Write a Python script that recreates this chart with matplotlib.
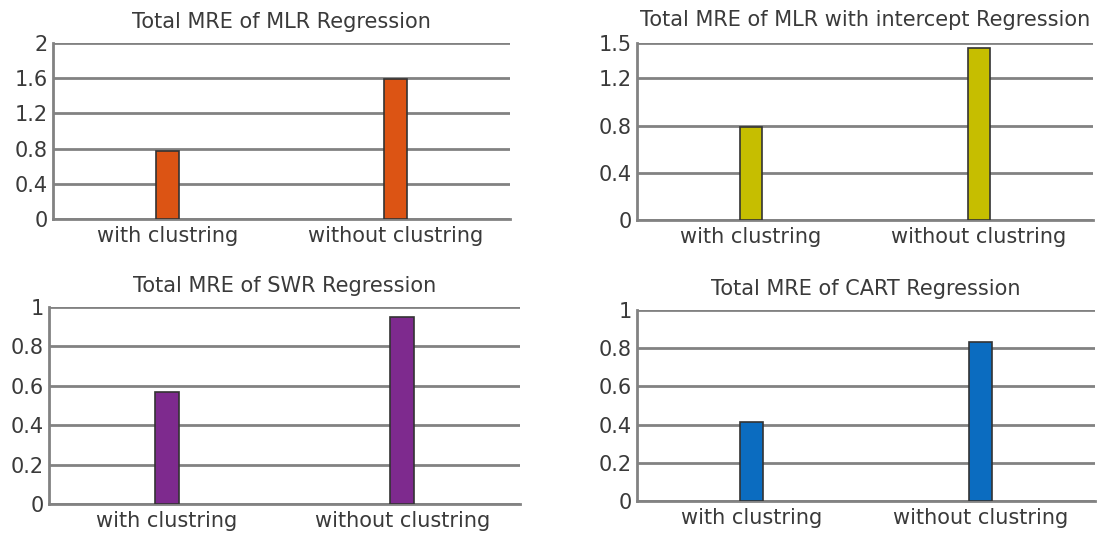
import matplotlib
matplotlib.use("Agg")
import matplotlib.pyplot as plt

# data
categories = ["with clustring", "without clustring"]

mlr_values = [0.77, 1.59]
mlr_int_values = [0.79, 1.46]
swr_values = [0.57, 0.95]
cart_values = [0.415, 0.83]

titles = ["Total MRE of MLR Regression",
          "Total MRE of MLR with intercept Regression",
          "Total MRE of SWR Regression",
          "Total MRE of CART Regression"]

mlr_ticks = [0, 0.4, 0.8, 1.2, 1.6, 2]
mlr_int_ticks = [0, 0.4, 0.8, 1.2, 1.5]
swr_ticks = [0, 0.2, 0.4, 0.6, 0.8, 1]
cart_ticks = [0, 0.2, 0.4, 0.6, 0.8, 1]

colors = ["#DC5414", "#C6BE00", "#7E2A8E", "#0B6CC0"]

W, H = 1105, 535
fig = plt.figure(figsize=(W / 100, H / 100), dpi=100)
plt.rcParams["font.family"] = "DejaVu Sans"

# axes boxes in pixels: left, right, top, bottom
boxes = [(53, 510, 43, 219),
         (637, 1093, 43, 220),
         (49, 520, 307, 504),
         (637, 1095, 310, 501)]

panels = [(mlr_values, mlr_ticks),
          (mlr_int_values, mlr_int_ticks),
          (swr_values, swr_ticks),
          (cart_values, cart_ticks)]

title_pads = [11, 12, 11, 11]


def tick_text(v):
    if v == int(v):
        return "%d" % v
    return ("%.1f" % v)


for i, ((vals, ticks), box) in enumerate(zip(panels, boxes)):
    l, r, t, b = box
    ax = fig.add_axes([l / W, 1 - b / H, (r - l) / W, (b - t) / H])
    x = list(range(len(categories)))
    ax.bar(x, vals, width=0.1, color=colors[i], edgecolor="#333333",
           linewidth=1.2, zorder=3)
    ax.set_xlim(-0.5, 1.5)
    ax.set_ylim(0, ticks[-1])
    ax.set_yticks(ticks)
    ax.set_yticklabels([tick_text(v) for v in ticks])
    ax.set_xticks(x)
    ax.set_xticklabels(categories)
    ax.yaxis.grid(True, color="#828282", linewidth=2, zorder=0)
    ax.set_axisbelow(True)
    for s in ["top", "right"]:
        ax.spines[s].set_visible(False)
    ax.spines["left"].set_color("#828282")
    ax.spines["left"].set_linewidth(2)
    ax.spines["bottom"].set_color("#828282")
    ax.spines["bottom"].set_linewidth(2)
    ax.tick_params(axis="both", length=0, labelsize=15,
                   labelcolor="#3a3a3a")
    ax.tick_params(axis="y", pad=4)
    ax.tick_params(axis="x", pad=5)
    ax.set_title(titles[i], fontsize=15, color="#3a3a3a", pad=title_pads[i])

fig.savefig("out.png", dpi=100)
